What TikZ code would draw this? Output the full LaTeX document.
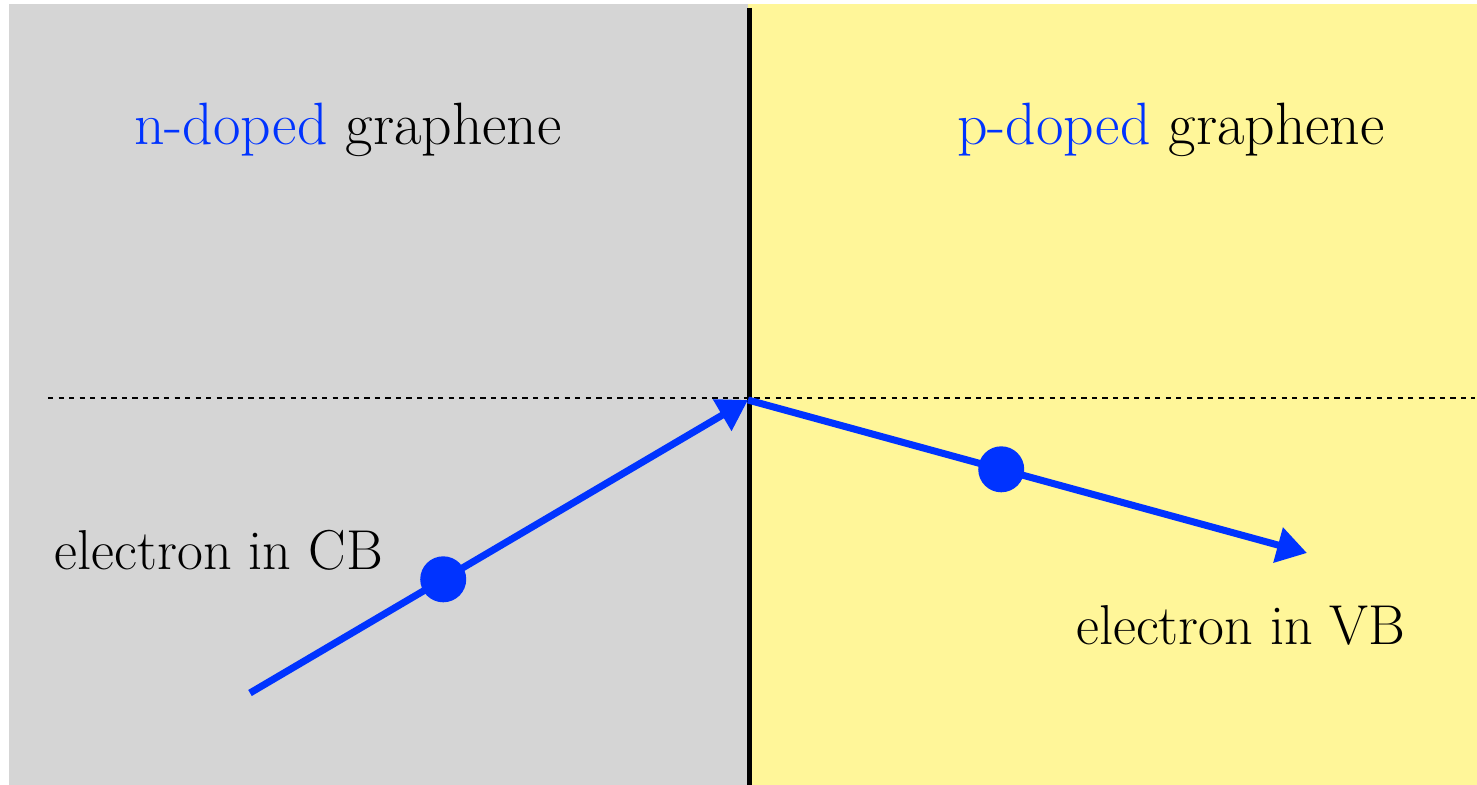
\documentclass[tikz,border=0pt]{standalone}
\usepackage{tikz}
\usetikzlibrary{positioning, arrows.meta, calc}
\definecolor{ngray}{RGB}{213,213,213}
\definecolor{pyellow}{RGB}{255,246,153}
\definecolor{eblue}{RGB}{0,51,255}
\tikzset{
  region/.style={font=\fontsize{17}{20}\selectfont},
  label/.style={font=\fontsize{16}{19}\selectfont},
  path/.style={eblue, line width=2pt, -{Triangle[length=3mm,width=3.5mm]}},
  electron/.style={circle, fill=eblue, inner sep=0pt, minimum size=4.6mm}
}

\begin{document}
\begin{tikzpicture}
    \useasboundingbox (0,0) rectangle (14.77,7.85);

    % Zonas dopadas
    \fill[ngray] (0.09,0) rectangle (7.48,7.81);
    \fill[pyellow] (7.48,0) rectangle (14.77,7.81);

    % Linea de Fermi (punteada)
    \coordinate (FL) at (0.48,3.87);
    \coordinate (FR) at (14.75,3.87);
    \draw[line width=0.6pt, dash pattern=on 1.5pt off 1.5pt] (FL) -- (FR);

    % Interfaz
    \coordinate (Itop) at (7.495,7.77);
    \coordinate (Ibot) at (7.495,0);
    \draw[line width=1.4pt] (Itop) -- (Ibot);

    % Titulos
    \node[region] (ntitle) at (3.48,6.55) {\textcolor{eblue}{n-doped} graphene};
    \node[region] (ptitle) at (11.71,6.55) {\textcolor{eblue}{p-doped} graphene};

    % Trayectoria del electron
    \coordinate (cbstart) at (2.50,0.92);
    \coordinate (hit) at (7.48,3.85);
    \coordinate (vbend) at (13.07,2.32);
    \draw[path] (cbstart) -- (hit);
    \draw[path] (hit) -- (vbend);
    \node[electron] (ecb) at ($(cbstart)!0.388!(hit)$) {};
    \node[electron] (evb) at ($(hit)!0.453!(vbend)$) {};

    % Etiquetas
    \node[label] (cblabel) at (2.19,2.35) {electron in CB};
    \node[label] (vblabel) at (12.41,1.60) {electron in VB};

\end{tikzpicture}
\end{document}
